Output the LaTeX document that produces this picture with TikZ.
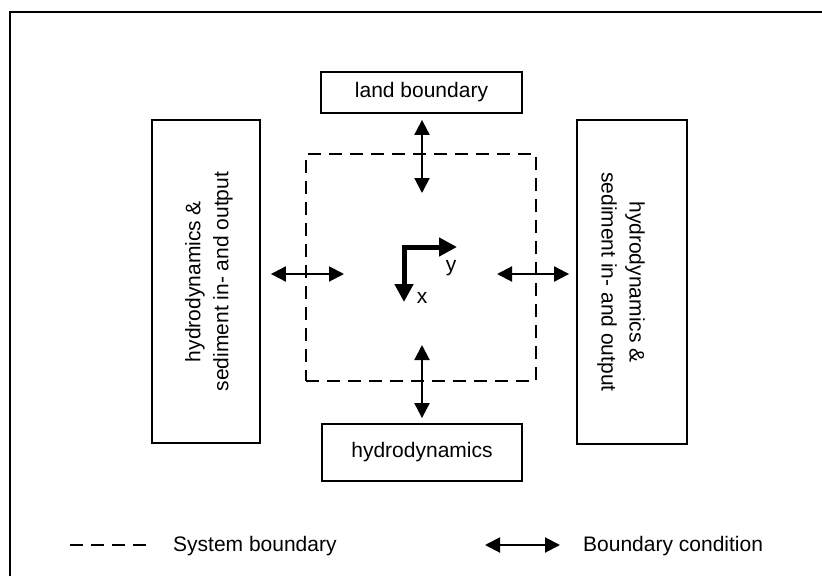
\documentclass[tikz,border=0pt]{standalone}
\usepackage{fontspec}
\setmainfont{Liberation Sans}
\usetikzlibrary{arrows.meta}
\begin{document}
\begin{tikzpicture}[x=1pt,y=-1pt,
  boks/.style={draw,line width=1.8pt,inner sep=0pt,align=center,
    font=\fontsize{21}{28}\selectfont},
  bet/.style={line width=2pt,
    {Triangle[length=15pt,width=15pt]}-{Triangle[length=15pt,width=15pt]}},
  akse/.style={line width=5pt,line join=miter,
    {Triangle[length=18pt,width=18pt]}-{Triangle[length=18pt,width=18pt]}},
  tekst/.style={font=\fontsize{21}{25}\selectfont,inner sep=0pt},
  sidetekst/.style={font=\fontsize{21}{28}\selectfont,inner sep=0pt,align=center}]
  %rammen
	\useasboundingbox (0,0) rectangle (822,576);
	\draw[line width=2.4pt] (10,576) -- (10,12) -- (822,12);

  %systemgraense
	\node[draw,dashed,dash pattern=on 13pt off 8pt,line width=1.8pt,
	  minimum width=230pt,minimum height=227pt] (sys) at (421,267.5) {};

  %randene
	\node[boks,minimum width=201pt,minimum height=41pt] (land) at (421.5,92.5) {land boundary};
	\node[boks,minimum width=200pt,minimum height=57pt] (hydro) at (422,452.5) {hydrodynamics};
	\node[boks,minimum width=108pt,minimum height=323pt] (venstre) at (206,281.5) {};
	\node[boks,minimum width=110pt,minimum height=324pt] (hoejre) at (632,282) {};
	\node[sidetekst,rotate=90] (venstretxt) at ([xshift=3pt]venstre.center)
	  {hydrodynamics \&\\sediment in- and output};
	\node[sidetekst,rotate=-90] (hoejretxt) at ([xshift=-11pt]hoejre.center)
	  {hydrodynamics \&\\sediment in- and output};

  %randbetingelser
	\coordinate (top) at (422,193);
	\coordinate (bund) at (422,345);
	\coordinate (vst) at (344,274);
	\coordinate (hjr) at (497,274);
	\draw[bet,shorten <=6pt] (land.south -| top) -- (top);
	\draw[bet,shorten <=5pt] (hydro.north -| bund) -- (bund);
	\draw[bet,shorten <=10pt] (venstre.east |- vst) -- (vst);
	\draw[bet,shorten <=7pt] (hoejre.west |- hjr) -- (hjr);

  %akser
	\coordinate (hjoerne) at (404,247);
	\coordinate (yspids) at (457,247);
	\coordinate (xspids) at (404,302);
	\draw[akse] (yspids) -- (hjoerne) -- (xspids);
	\node[tekst] (ylabel) at (451,268) {y};
	\node[tekst] (xlabel) at (422,298) {x};

  %signaturforklaring
	\coordinate (s1) at (70,545);
	\coordinate (s2) at (147,545);
	\draw[dash pattern=on 13pt off 8pt,line width=1.8pt] (s1) -- (s2);
	\node[tekst,anchor=west] (systxt) at (173,546) {System boundary};
	\coordinate (b1) at (485,545);
	\coordinate (b2) at (560,545);
	\draw[bet] (b1) -- (b2);
	\node[tekst,anchor=west] (bettxt) at (583,546) {Boundary condition};
\end{tikzpicture}
\end{document}
